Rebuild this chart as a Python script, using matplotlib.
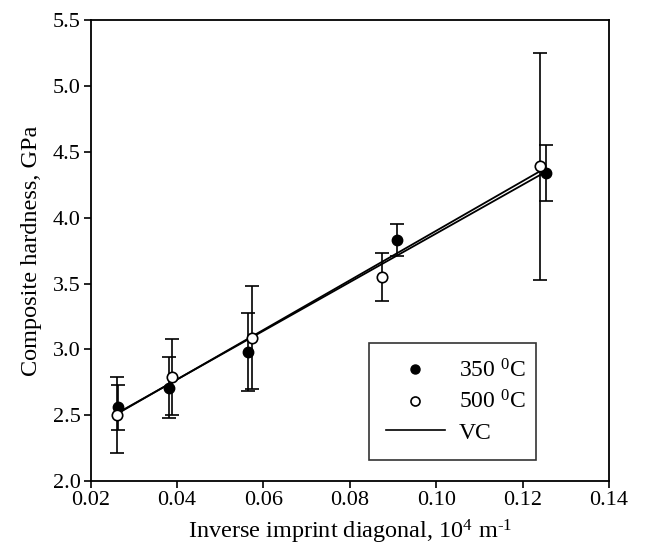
import matplotlib
matplotlib.use('Agg')
import matplotlib.pyplot as plt
from matplotlib.lines import Line2D
import numpy as np

# 350 C (filled circles)
x350 = [0.0264, 0.0381, 0.0565, 0.0910, 0.1254]
y350 = [2.56, 2.71, 2.98, 3.83, 4.34]
e350 = [0.17, 0.23, 0.30, 0.12, 0.21]

# 500 C (open circles)
x500 = [0.0261, 0.0389, 0.0574, 0.0874, 0.1241]
y500 = [2.50, 2.79, 3.09, 3.55, 4.39]
e500 = [0.29, 0.29, 0.39, 0.18, 0.86]

# VC fit lines (end points)
fit_x350 = [0.0264, 0.1254]
fit_y350 = [2.52, 4.35]
fit_x500 = [0.0261, 0.1241]
fit_y500 = [2.51, 4.355]

plt.rcParams['font.family'] = 'Liberation Serif'
plt.rcParams['mathtext.fontset'] = 'custom'
plt.rcParams['mathtext.rm'] = 'Liberation Serif'
plt.rcParams['mathtext.it'] = 'Liberation Serif:italic'

fig = plt.figure(figsize=(6.46, 5.56), dpi=100)
ax = fig.add_axes([90.7/646, 1 - 481/556, (609 - 90.7)/646, (481 - 20.3)/556])

ax.plot(fit_x350, fit_y350, color='black', lw=1.3, zorder=2)
ax.plot(fit_x500, fit_y500, color='black', lw=1.3, zorder=2)

ax.errorbar(x350, y350, yerr=e350, fmt='o', color='black', ms=7.5,
            mfc='black', mec='black', ecolor='black', elinewidth=1.2,
            capsize=5, capthick=1.2, zorder=3)
ax.errorbar(x500, y500, yerr=e500, fmt='o', color='black', ms=7.5,
            mfc='white', mec='black', mew=1.2, ecolor='black', elinewidth=1.2,
            capsize=5, capthick=1.2, zorder=4)

ax.set_xlim(0.02, 0.14)
ax.set_ylim(2.0, 5.5)
ax.set_xticks(np.arange(0.02, 0.141, 0.02))
ax.set_yticks(np.arange(2.0, 5.51, 0.5))
ax.xaxis.set_major_formatter(matplotlib.ticker.FormatStrFormatter('%.2f'))
ax.yaxis.set_major_formatter(matplotlib.ticker.FormatStrFormatter('%.1f'))
ax.tick_params(direction='out', length=5, width=1.2, labelsize=16, pad=2,
               top=False, right=False)
for s in ax.spines.values():
    s.set_linewidth(1.3)

ax.set_xlabel('Inverse imprint diagonal, 10$^4$ m$^{\\text{-}1}$', fontsize=17.5, labelpad=6)
ax.set_ylabel('Composite hardness, GPa', fontsize=17.5, labelpad=8)

handles = [
    Line2D([], [], ls='none', marker='o', ms=6.5, mfc='black', mec='black'),
    Line2D([], [], ls='none', marker='o', ms=6.5, mfc='white', mec='black', mew=1.2),
    Line2D([], [], color='black', lw=1.2),
]
labels = ['350 $^{0}$C', '500 $^{0}$C', 'VC']
leg = ax.legend(handles, labels,
                loc='lower left', bbox_to_anchor=(0.537, 0.045, 0.322, 0.254),
                mode='expand', borderaxespad=0, fontsize=17, frameon=True,
                fancybox=False, edgecolor='black', borderpad=0.7, labelspacing=0.35,
                handlelength=2.5, handletextpad=0.6)
leg.get_frame().set_linewidth(1.2)

fig.savefig('out.png', dpi=100)
